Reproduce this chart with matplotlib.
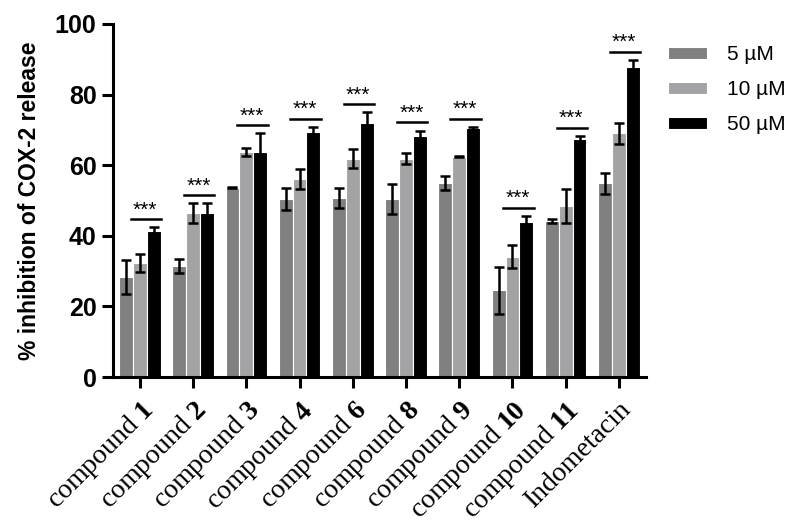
import numpy as np
import matplotlib
matplotlib.use('Agg')
import matplotlib.pyplot as plt

plt.rcParams['font.family'] = ['Liberation Sans', 'DejaVu Sans']
plt.rcParams['mathtext.fontset'] = 'custom'
plt.rcParams['mathtext.rm'] = 'Liberation Serif'
plt.rcParams['mathtext.bf'] = 'Liberation Serif:bold'

# data
groups = ['compound $\\mathbf{1}$', 'compound $\\mathbf{2}$', 'compound $\\mathbf{3}$',
          'compound $\\mathbf{4}$', 'compound $\\mathbf{6}$', 'compound $\\mathbf{8}$',
          'compound $\\mathbf{9}$', 'compound $\\mathbf{10}$', 'compound $\\mathbf{11}$',
          'Indometacin']
series = ['5 µM', '10 µM', '50 µM']
s5 = [28.4, 31.4, 53.6, 50.3, 50.8, 50.4, 54.9, 24.5, 44.2, 54.9]
e5 = [4.8, 1.9, 0.2, 3.1, 2.8, 4.2, 1.9, 6.6, 0.6, 3.0]
s10 = [32.2, 46.4, 63.7, 56.1, 61.8, 61.8, 62.4, 34.1, 48.4, 69.0]
e10 = [2.6, 2.8, 1.2, 2.9, 2.7, 1.6, 0.2, 3.3, 4.8, 3.0]
s50 = [41.4, 46.4, 63.7, 69.5, 71.9, 68.3, 70.4, 44.0, 67.4, 87.7]
e50 = [1.0, 2.8, 5.3, 1.4, 3.1, 1.5, 0.5, 1.7, 0.9, 2.1]
signif = ['***'] * len(groups)

colors = ['#808080', '#a3a3a6', '#000000']

fig = plt.figure(figsize=(7.97, 5.31), dpi=100)
ax = fig.add_axes([0.142, 0.29, 0.668, 0.665])

x = np.arange(len(groups))
w = 0.26
err_kw = dict(elinewidth=1.8, capthick=1.8, capsize=3.5, ecolor='black')
for i, (vals, errs) in enumerate([(s5, e5), (s10, e10), (s50, e50)]):
    ax.bar(x + (i - 1) * w, vals, w, yerr=errs, color=colors[i],
           edgecolor='white', linewidth=0.8, label=series[i], error_kw=err_kw)

# significance lines and stars
tops = np.max([np.add(s5, e5), np.add(s10, e10), np.add(s50, e50)], axis=0)
for xi, top, s in zip(x, tops, signif):
    y = top + 2.3
    ax.plot([xi - 0.17, xi + 0.4], [y, y], color='black', lw=1.8)
    ax.text(xi + 0.1, y + 1.0, s, ha='center', va='baseline', fontsize=15)

ax.set_xlim(-0.5, len(groups) - 0.5)
ax.set_ylim(0, 100)
ax.set_yticks(np.arange(0, 101, 20))
ax.set_xticks(x)
ax.set_xticklabels(groups, rotation=45, ha='right', rotation_mode='anchor',
                   fontsize=20, family='Liberation Serif')
for lab in ax.get_yticklabels():
    lab.set_fontweight('bold')
ax.tick_params(axis='y', labelsize=18, width=2.2, length=8, pad=4)
ax.tick_params(axis='x', width=2.2, length=8, pad=6)
ax.set_ylabel('% inhibition of COX-2 release', fontsize=16.5, fontweight='bold',
              labelpad=10)

for side in ['top', 'right']:
    ax.spines[side].set_visible(False)
for side in ['left', 'bottom']:
    ax.spines[side].set_linewidth(2.2)

fig.legend(loc='upper left', bbox_to_anchor=(668 / 797, 1 - 45 / 531),
           frameon=False, fontsize=15, handlelength=1.85, handleheight=0.5,
           handletextpad=1.0, labelspacing=0.78, borderpad=0, borderaxespad=0)

plt.savefig('out.png', dpi=100)
